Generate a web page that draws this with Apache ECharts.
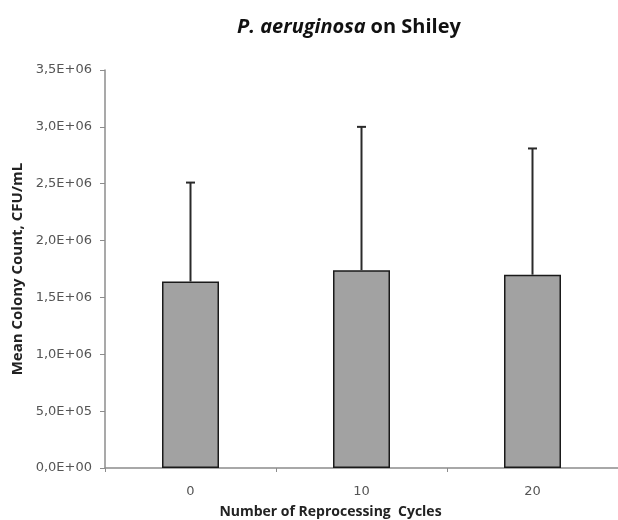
<!DOCTYPE html>
<html>
<head>
<meta charset="utf-8">
<script src="https://cdn.jsdelivr.net/npm/echarts@6/dist/echarts.min.js"></script>
<style>html,body{margin:0;padding:0;background:#fff}#c{width:618px;height:520px}</style>
</head>
<body>
<div id="c"></div>
<script>
const cycles = ['0', '10', '20'];
const meanCount = [1.64e6, 1.74e6, 1.70e6];
const errorTop = [2.51e6, 3.00e6, 2.81e6];
const yTicks = { min: 0, max: 3.5e6, step: 5e5 };

function sci(v){
  // 3500000 -> "3,5E+06"
  if (v === 0) return '0,0E+00';
  const e = Math.floor(Math.log10(v));
  const m = (v / Math.pow(10, e)).toFixed(1).replace('.', ',');
  return m + 'E+' + String(e).padStart(2, '0');
}

const c = echarts.init(document.getElementById('c'));
c.setOption({
  animation: false,
  title: {
    left: 344, top: 12, textAlign: 'center',
    text: '{i|P. aeruginosa} {b|on Shiley}',
    textStyle: {
      rich: {
        i: { fontFamily: 'Open Sans', fontWeight: 'bold', fontStyle: 'italic', fontSize: 20, color: '#111' },
        b: { fontFamily: 'Open Sans', fontWeight: 'bold', fontSize: 20, color: '#111' }
      }
    }
  },
  grid: { left: 105, right: 0, top: 70, bottom: 52, outerBoundsMode: 'none' },
  xAxis: {
    type: 'category', data: cycles,
    name: 'Number of Reprocessing  Cycles', nameLocation: 'middle', nameGap: 37,
    nameTextStyle: { fontFamily: 'Open Sans', fontWeight: 'bold', fontSize: 14, color: '#222', padding: [0, 62, 0, 0] },
    axisLine: { lineStyle: { color: '#8c8c8c', width: 1.5 } },
    axisTick: { show: true, length: 4, lineStyle: { color: '#8c8c8c' } },
    axisLabel: { fontFamily: 'DejaVu Sans', fontSize: 13, color: '#555', margin: 17 }
  },
  yAxis: {
    type: 'value', min: yTicks.min, max: yTicks.max, interval: yTicks.step,
    name: 'Mean Colony Count, CFU/mL', nameLocation: 'middle', nameGap: 80,
    nameTextStyle: { fontFamily: 'Open Sans', fontWeight: 'bold', fontSize: 15, color: '#222' },
    splitLine: { show: false },
    axisLine: { show: true, lineStyle: { color: '#8c8c8c', width: 1.5 } },
    axisTick: { show: true, length: 5, lineStyle: { color: '#8c8c8c' } },
    axisLabel: { fontFamily: 'DejaVu Sans', fontSize: 13, color: '#555', margin: 13, formatter: sci }
  },
  series: [
    {
      type: 'bar', data: meanCount, barWidth: 57,
      itemStyle: { color: '#a2a2a2', borderColor: '#1a1a1a', borderWidth: 1.5 }
    },
    {
      type: 'custom', z: 5,
      data: cycles.map((k, i) => [i, meanCount[i], errorTop[i]]),
      renderItem: (params, api) => {
        const lo = api.coord([api.value(0), api.value(1)]);
        const hi = api.coord([api.value(0), api.value(2)]);
        const w = 4.5;
        const st = { stroke: '#2a2a2a', lineWidth: 2 };
        return { type: 'group', children: [
          { type: 'line', shape: { x1: lo[0], y1: lo[1], x2: hi[0], y2: hi[1] }, style: st },
          { type: 'line', shape: { x1: hi[0] - w, y1: hi[1], x2: hi[0] + w, y2: hi[1] }, style: st }
        ]};
      }
    }
  ]
});
</script>
</body>
</html>
